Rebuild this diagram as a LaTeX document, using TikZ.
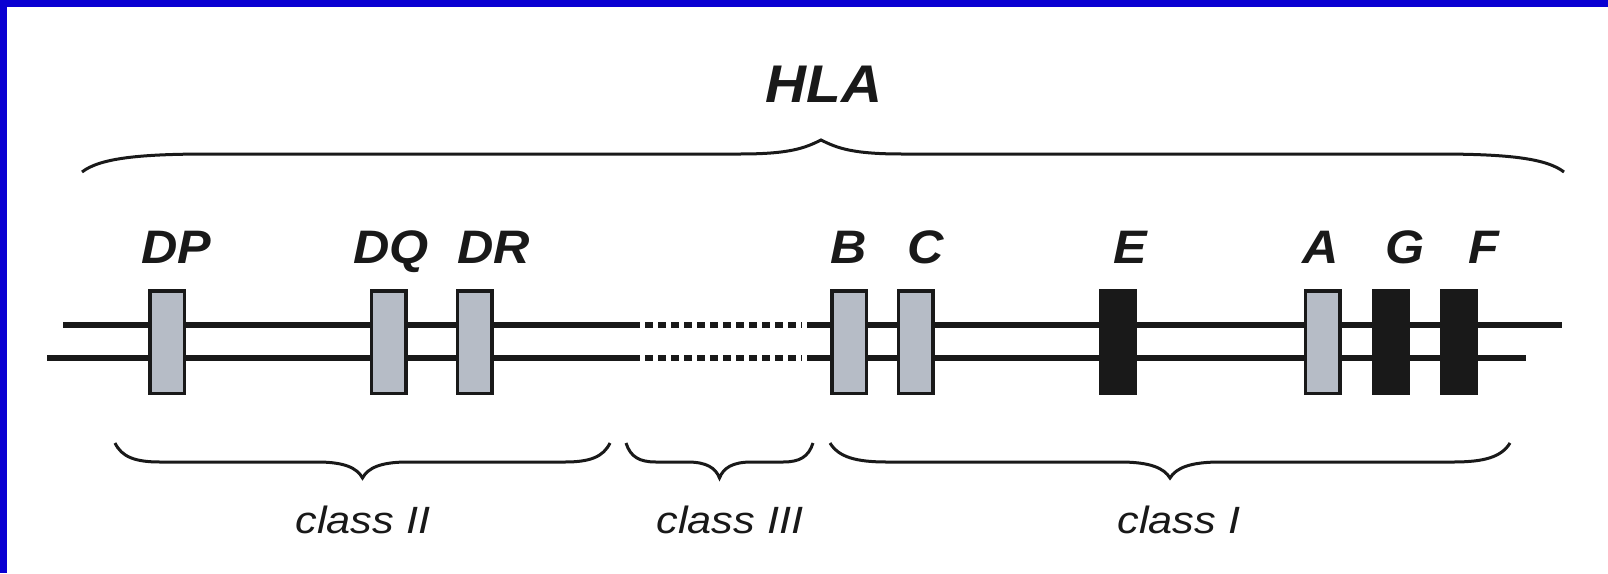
\documentclass[tikz,border=0pt]{standalone}
\usepackage{fontspec}
\setmainfont{Liberation Sans}
\newfontfamily\genefont[FakeStretch=1.07]{Liberation Sans}
\newfontfamily\classfont[FakeStretch=1.14]{Liberation Sans}
\definecolor{frameblue}{RGB}{10,0,210}
\definecolor{genegray}{RGB}{182,188,198}
\definecolor{ink}{RGB}{25,25,25}
\newcommand{\downbrace}[4]{% x1, x2, end length, tip half width
  \draw[bracestyle] (#1,443) .. controls ({#1+0.15*#3},457) and ({#1+0.45*#3},462) .. ({#1+#3},462)
    -- ({(#1+#2)/2-#4},462) .. controls ({(#1+#2)/2-0.4*#4},462) and ({(#1+#2)/2-0.12*#4},468) .. ({(#1+#2)/2},478)
    .. controls ({(#1+#2)/2+0.12*#4},468) and ({(#1+#2)/2+0.4*#4},462) .. ({(#1+#2)/2+#4},462)
    -- ({#2-#3},462) .. controls ({#2-0.45*#3},462) and ({#2-0.15*#3},457) .. (#2,443);}
\begin{document}
\begin{tikzpicture}[x=1pt,y=-1pt,
  strand/.style={draw=ink,line width=6pt},
  dashstrand/.style={draw=ink,line width=6.5pt,dash pattern=on 8pt off 5pt},
  graybox/.style={draw=ink,fill=genegray,line width=3.5pt,minimum width=34.5pt,minimum height=102.5pt,inner sep=0pt},
  blackbox/.style={draw=ink,fill=ink,line width=3.5pt,minimum width=34.5pt,minimum height=102.5pt,inner sep=0pt},
  genelabel/.style={font=\genefont\fontsize{47}{50}\selectfont\bfseries\itshape,text=ink,anchor=base,inner sep=0pt},
  classlabel/.style={font=\classfont\fontsize{38}{42}\selectfont\itshape,text=ink,anchor=base,inner sep=0pt},
  bracestyle/.style={draw=ink,line width=3pt}]
\useasboundingbox (0,0) rectangle (1608,573);
\fill[white] (0,0) rectangle (1608,573);
\fill[frameblue] (0,0) rectangle (1608,7);
\fill[frameblue] (0,0) rectangle (7,573);
% strands
\coordinate (u1) at (63,325); \coordinate (u2) at (632,325); \coordinate (u3) at (802,325);
\coordinate (u4) at (807,325); \coordinate (u5) at (1562,325);
\coordinate (l1) at (47,358); \coordinate (l2) at (632,358); \coordinate (l3) at (802,358);
\coordinate (l4) at (807,358); \coordinate (l5) at (1526,358);
\draw[strand] (u1) -- (u2); \draw[dashstrand] (u2) -- (u3); \draw[strand] (u4) -- (u5);
\draw[strand] (l1) -- (l2); \draw[dashstrand] (l2) -- (l3); \draw[strand] (l4) -- (l5);
% genes
\node[graybox] (DP) at (167,342) {};
\node[graybox] (DQ) at (388.5,342) {};
\node[graybox] (DR) at (474.5,342) {};
\node[graybox] (B) at (849,342) {};
\node[graybox] (C) at (915.5,342) {};
\node[blackbox] (E) at (1117.5,342) {};
\node[graybox] (A) at (1322.5,342) {};
\node[blackbox] (G) at (1390.5,342) {};
\node[blackbox] (F) at (1458.5,342) {};
% gene labels
\node[genelabel] (tDP) at (176,263) {DP};
\node[genelabel] (tDQ) at (391,263) {DQ};
\node[genelabel] (tDR) at (494,263) {DR};
\node[genelabel] (tB) at (849,263) {B};
\node[genelabel] (tC) at (926,263) {C};
\node[genelabel] (tE) at (1130,263) {E};
\node[genelabel] (tA) at (1321,263) {A};
\node[genelabel] (tG) at (1405,263) {G};
\node[genelabel] (tF) at (1484,263) {F};
% HLA
\node[font=\genefont\fontsize{53}{56}\selectfont\bfseries\itshape,text=ink,anchor=base,inner sep=0pt] (HLA) at (824,102) {HLA};
% top brace
\draw[bracestyle] (82,172) .. controls (100,158) and (140,154) .. (210,154)
  -- (740,154) .. controls (790,154) and (805,148) .. (821,140)
  .. controls (837,148) and (852,154) .. (902,154)
  -- (1436,154) .. controls (1506,154) and (1546,158) .. (1564,172);
% bottom braces
\downbrace{115}{610}{45}{45}
\downbrace{626}{813}{30}{32}
\downbrace{830}{1510}{57}{50}
\node[classlabel] (c2) at (363,533) {class II};
\node[classlabel] (c3) at (730,533) {class III};
\node[classlabel] (c1) at (1179,533) {class I};
\end{tikzpicture}
\end{document}
